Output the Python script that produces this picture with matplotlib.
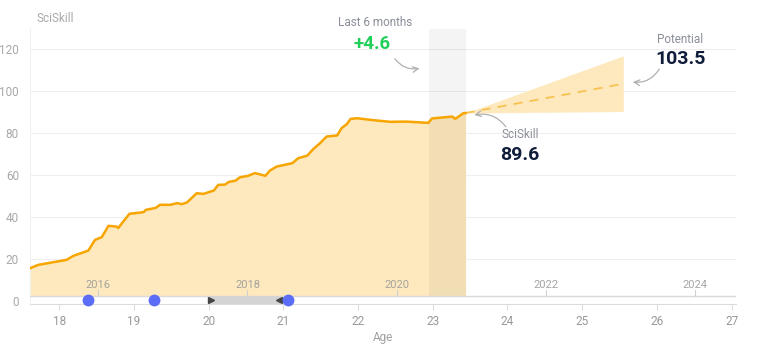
"""SciSkill progression by age, with a short-term projection."""

import matplotlib

matplotlib.use("Agg")

import matplotlib.pyplot as plt
from matplotlib.patches import Rectangle

plt.rcParams["font.family"] = ["Roboto", "DejaVu Sans"]

# skill history (age in years, SciSkill value)
ages = [17.61, 17.72, 18.10, 18.19, 18.39, 18.48, 18.57, 18.66, 18.77, 18.79,
        18.84, 18.94, 19.13, 19.16, 19.29, 19.35, 19.49, 19.58, 19.64, 19.71,
        19.84, 19.93, 20.07, 20.13, 20.22, 20.27, 20.36, 20.42, 20.53, 20.62,
        20.76, 20.82, 20.91, 21.12, 21.20, 21.32, 21.40, 21.49, 21.58, 21.72,
        21.78, 21.85, 21.90, 21.99, 22.20, 22.43, 22.65, 22.94, 22.99, 23.26,
        23.30, 23.41, 23.44]
skill = [15.7, 17.3, 19.7, 21.6, 24.1, 29.2, 30.5, 35.9, 35.5, 34.8,
         37.1, 41.6, 42.4, 43.5, 44.4, 45.9, 45.9, 46.7, 46.2, 47.0,
         51.4, 51.1, 52.7, 55.4, 55.5, 56.8, 57.4, 59.0, 59.7, 61.0,
         59.7, 62.2, 64.1, 65.7, 68.1, 69.3, 72.4, 75.2, 78.4, 78.9,
         82.4, 84.3, 86.8, 87.1, 86.2, 85.4, 85.5, 84.9, 87.0, 87.9,
         86.8, 89.5, 89.6]

# projection cone
proj_ages = [23.44, 25.55]
proj_mid = [89.6, 103.5]
proj_low = [89.6, 90.3]
proj_high = [89.6, 116.8]

last6_start, last6_end = 22.95, 23.44
last6_gain = 4.6
current = 89.6
potential = 103.5

year_labels = ["2016", "2018", "2020", "2022", "2024"]
year_ages = [18.52, 20.52, 22.52, 24.51, 26.51]

event_ages = [18.39, 19.27, 21.06]
gap_start, gap_end = 20.0, 20.97

age_ticks = list(range(18, 28))
skill_ticks = [0, 20, 40, 60, 80, 100, 120]

ORANGE = "#f7a500"
FILL = "#fde9bd"
NAVY = "#0f1d3a"
BASE = 2.5

fig = plt.figure(figsize=(7.7, 3.56), dpi=100)
ax = fig.add_axes([0.039, 0.145, 0.917, 0.776])
ax.set_xlim(17.61, 27.06)
ax.set_ylim(-1.5, 130)

for t in skill_ticks[1:]:
    ax.axhline(t, color="#eeeeee", lw=0.8, zorder=0)

ax.fill_between(ages, skill, BASE, color=FILL, lw=0, zorder=1)
ax.plot(ages, skill, color=ORANGE, lw=1.8, zorder=4, solid_joinstyle="round")

ax.fill_between(proj_ages, proj_low, proj_high, color=FILL, lw=0, zorder=1)
ax.plot(proj_ages, proj_mid, color="#f9c24f", lw=1.3, ls=(0, (5, 4)), zorder=3)

ax.add_patch(Rectangle((last6_start, BASE), last6_end - last6_start, 129.5 - BASE,
                       color="#000000", alpha=0.045, lw=0, zorder=2))

# timeline strip under the chart
ax.axhline(BASE, color="#d9d9d9", lw=1, zorder=3)
ax.add_patch(Rectangle((gap_start, -1.4), gap_end - gap_start, BASE + 1.4,
                       color="#d4d4d4", lw=0, zorder=3))
ax.plot([gap_start + 0.03], [0.5], marker=">", color="#444444", ms=4, zorder=4)
ax.plot([gap_end - 0.03], [0.5], marker="<", color="#444444", ms=4, zorder=4)
ax.plot(event_ages, [0.5] * len(event_ages), "o", color="#5b6cf6", ms=7.5,
        zorder=5, clip_on=False)

for label, a in zip(year_labels, year_ages):
    ax.plot([a, a], [BASE, 5.2], color="#d0d0d0", lw=0.8, zorder=3)
    ax.text(a, 5.5, label, ha="center", va="bottom", fontsize=8,
            color="#9b9b9b", alpha=0.9, zorder=3)

for side in ["top", "right"]:
    ax.spines[side].set_visible(False)
ax.spines["left"].set_color("#f0f0f0")
ax.spines["bottom"].set_color("#dddddd")

ax.set_xticks(age_ticks)
ax.set_yticks(skill_ticks)
ax.tick_params(axis="x", colors="#dddddd", labelcolor="#999999", labelsize=8.5,
               length=4, pad=4)
ax.tick_params(axis="y", length=0, labelcolor="#a8a8a8", labelsize=8.5, pad=8)
ax.set_xlabel("Age", color="#a0a0a0", fontsize=8.5, labelpad=2)
ax.text(17.7, 134.5, "SciSkill", color="#a8a8a8", fontsize=8.5, va="center",
        clip_on=False)

# annotations
ax.text(22.23, 132.5, "Last 6 months", ha="center", va="center", fontsize=8.5,
        color="#8a8f99", clip_on=False)
ax.text(22.19, 122.5, f"+{last6_gain}", ha="center", va="center", fontsize=13.5,
        fontweight="bold", color="#20d05a")
ax.annotate("", xy=(22.86, 111.1), xytext=(22.47, 116.5),
            arrowprops=dict(arrowstyle="->", color="#b0b0b0", lw=0.9,
                            connectionstyle="arc3,rad=0.35"))

ax.text(24.17, 79.5, "SciSkill", ha="center", va="center", fontsize=8.5,
        color="#8a8f99")
ax.text(24.17, 69.7, f"{current}", ha="center", va="center", fontsize=14,
        fontweight="bold", color=NAVY)
ax.annotate("", xy=(23.52, 88.3), xytext=(24.0, 82.0),
            arrowprops=dict(arrowstyle="->", color="#b0b0b0", lw=0.9,
                            connectionstyle="arc3,rad=0.35"))

ax.text(26.31, 124.4, "Potential", ha="center", va="center", fontsize=8.5,
        color="#8a8f99")
ax.text(26.31, 115.4, f"{potential}", ha="center", va="center", fontsize=14,
        fontweight="bold", color=NAVY)
ax.annotate("", xy=(25.64, 104.5), xytext=(26.05, 111.6),
            arrowprops=dict(arrowstyle="->", color="#b0b0b0", lw=0.9,
                            connectionstyle="arc3,rad=-0.35"))

fig.savefig("out.png", dpi=100)
plt.close(fig)
